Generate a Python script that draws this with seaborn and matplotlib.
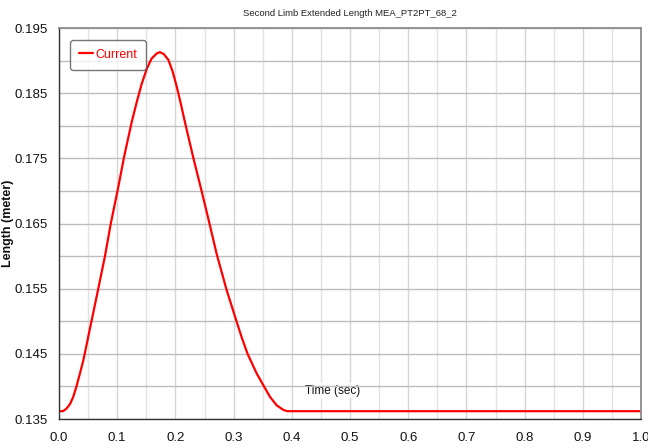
import matplotlib
matplotlib.use("Agg")
import matplotlib.pyplot as plt
import seaborn as sns
import pandas as pd
from matplotlib.ticker import MultipleLocator, FixedLocator

# Data
time_sec = [0.0, 0.007, 0.013, 0.019, 0.0245, 0.030, 0.036, 0.0418, 0.047, 0.052,
            0.057, 0.0675, 0.079, 0.089, 0.101, 0.112, 0.125, 0.1335, 0.142, 0.1507,
            0.159, 0.168, 0.1735, 0.180, 0.188, 0.195, 0.202, 0.209, 0.216, 0.231,
            0.245, 0.258, 0.271, 0.288, 0.305, 0.314, 0.324, 0.3396, 0.351, 0.3625,
            0.374, 0.3855, 0.392, 1.0]
length_m = [0.1362, 0.1362, 0.1366, 0.1373, 0.1384, 0.1400, 0.1420, 0.1440, 0.1462, 0.1484,
            0.1505, 0.1550, 0.1600, 0.1650, 0.1702, 0.1753, 0.1806, 0.1836, 0.1864, 0.1887,
            0.1903, 0.1911, 0.1913, 0.1910, 0.1901, 0.1884, 0.1861, 0.1835, 0.1807, 0.1750,
            0.1700, 0.1652, 0.1603, 0.1548, 0.1500, 0.1475, 0.1450, 0.1420, 0.1402, 0.1384,
            0.1371, 0.1364, 0.1362, 0.1362]
series_name = "Current"
y_ticks = [0.135, 0.145, 0.155, 0.165, 0.175, 0.185, 0.195]
y_minor = [0.14, 0.15, 0.16, 0.17, 0.18, 0.19]
x_ticks = [0.0, 0.1, 0.2, 0.3, 0.4, 0.5, 0.6, 0.7, 0.8, 0.9, 1.0]

df = pd.DataFrame({"Time (sec)": time_sec, "Length (meter)": length_m,
                   "series": [series_name] * len(time_sec)})

sns.set_style("white")
plt.rcParams['font.family'] = ['Liberation Sans', 'DejaVu Sans']

fig = plt.figure(figsize=(6.48, 4.48), dpi=100)
ax = fig.add_axes([59 / 648, 29 / 448, 582 / 648, 391 / 448])

sns.lineplot(data=df, x="Time (sec)", y="Length (meter)", hue="series",
             palette={series_name: "#ff0000"}, linewidth=1.6, ax=ax)

ax.set_xlim(0.0, 1.0)
ax.set_ylim(0.135, 0.195)

ax.xaxis.set_major_locator(FixedLocator(x_ticks))
ax.xaxis.set_minor_locator(MultipleLocator(0.05))
ax.yaxis.set_major_locator(FixedLocator(y_ticks))
ax.yaxis.set_minor_locator(FixedLocator(y_minor))
ax.set_xticklabels([f"{v:.1f}" for v in x_ticks])
ax.set_yticklabels([f"{v:.3f}" for v in y_ticks])

ax.grid(True, which="both", axis="y", color="#bdbdbd", linewidth=1.0)
ax.grid(True, which="major", axis="x", color="#d6d6d6", linewidth=1.0)
ax.grid(True, which="minor", axis="x", color="#e2e2e2", linewidth=1.0)
ax.set_axisbelow(True)

ax.tick_params(axis="both", which="both", direction="out", color="#333333",
               length=5, width=0.8, labelsize=9.5, labelcolor="#111111")
ax.tick_params(axis="x", which="both", pad=4)
ax.tick_params(axis="y", which="both", pad=3)

for side in ["left", "bottom"]:
    ax.spines[side].set_color("#333333")
    ax.spines[side].set_linewidth(1.0)
for side in ["top", "right"]:
    ax.spines[side].set_color("#8c8c8c")
    ax.spines[side].set_linewidth(1.3)

ax.set_title("Second Limb Extended Length MEA_PT2PT_68_2", fontsize=6.8,
             color="#222222", pad=9)
ax.set_ylabel("Length (meter)", fontsize=9, fontweight="bold", color="#111111")
ax.yaxis.set_label_coords(-0.077, 0.5)
ax.set_xlabel("Time (sec)", fontsize=8.5, color="#111111",
              bbox=dict(facecolor="white", edgecolor="none", pad=1.0))
ax.xaxis.set_label_coords(0.47, 0.088)

leg = ax.legend(loc="upper left", bbox_to_anchor=(11 / 582, 0.969), borderaxespad=0,
                frameon=True, fontsize=9, handlelength=1.1, handletextpad=0.2,
                borderpad=0.7, fancybox=True, shadow=False)
leg.get_frame().set_edgecolor("#555555")
leg.get_frame().set_linewidth(1.0)
for t in leg.get_texts():
    t.set_color("#ff0000")

fig.savefig("out.png", dpi=100)
